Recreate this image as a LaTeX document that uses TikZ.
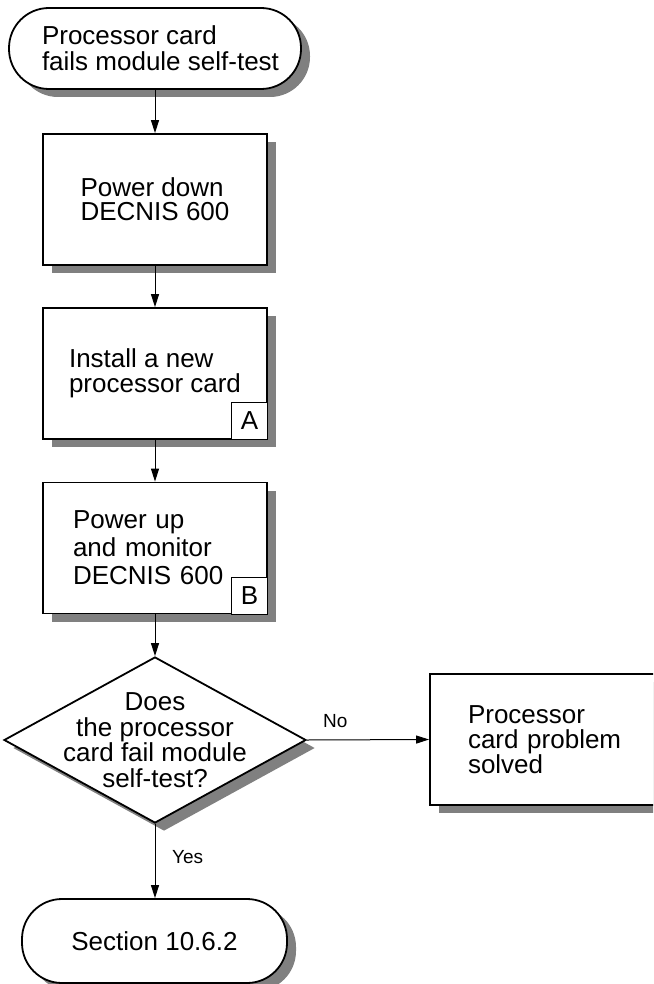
\documentclass[tikz,border=0pt]{standalone}
\usepackage{fontspec}
\setmainfont{Liberation Sans}
\usetikzlibrary{shapes.geometric,shadows,arrows.meta}
\begin{document}
\begin{tikzpicture}[x=1pt,y=-1pt,
  dshadow/.style={drop shadow={shadow xshift=9pt,shadow yshift=-8pt,fill=black!50,opacity=1,draw=none}},
  term/.style={rectangle, rounded corners=40pt, draw, line width=1.8pt, fill=white, inner sep=0pt, minimum height=81pt, align=left, dshadow},
  procbox/.style={rectangle, draw, line width=1.8pt, fill=white, inner sep=0pt, minimum width=224pt, minimum height=131pt, align=left, dshadow},
  decision/.style={diamond, draw, line width=1.8pt, fill=white, inner sep=0pt, minimum width=302pt, minimum height=166pt, dshadow},
  lettertag/.style={rectangle, draw, line width=0.9pt, fill=white, inner sep=0pt, minimum width=36pt, minimum height=37pt, anchor=south east},
  txt/.style={inner sep=0pt, align=center},
  lbl/.style={inner sep=0pt, font=\fontsize{19pt}{22pt}\selectfont},
  conn/.style={line width=1pt, -{Triangle[length=13pt,width=8pt]}},
  font=\fontsize{26pt}{25pt}\selectfont
]
\useasboundingbox (0,0) rectangle (653,984);
\clip (0,0) rectangle (653,984);
\fill[white] (0,0) rectangle (653,984);

\node[term, minimum width=292pt, font=\fontsize{26pt}{26pt}\selectfont] (start) at (155,48.5) {\hspace*{11pt}Processor card\\\hspace*{11pt}fails module self-test};
\node[procbox, font=\fontsize{26pt}{24pt}\selectfont] (b1) at (155,199.5) {Power down\\DECNIS 600};
\node[procbox, font=\fontsize{26pt}{25pt}\selectfont] (b2) at (155,373.5) {Install a new\\processor card};
\node[lettertag] (ta) at (b2.south east) {A};
\node[procbox, text width=164pt, inner xsep=30pt, font=\fontsize{26pt}{28pt}\selectfont] (b3) at (155,548) {Power up\\and monitor\\DECNIS 600};
\node[lettertag] (tb) at (b3.south east) {B};
\node[decision] (q) at (155,740) {};
\node[txt, font=\fontsize{26pt}{25.5pt}\selectfont] (qt) at (q.center) {Does\\the processor\\card fail module\\self-test?};
\node[procbox, minimum width=270pt, text width=194pt, inner xsep=38pt] (solved) at (565,739.5) {Processor\\card problem\\solved};
\node[term, minimum width=265pt, minimum height=84pt] (end) at (154.5,941) {Section 10.6.2};

\draw[conn] (start.south) -- (b1.north);
\draw[conn] (b1.south) -- (b2.north);
\draw[conn] (b2.south) -- (b3.north);
\draw[conn] (b3.south) -- (q.north);
\draw[conn] (q.east) -- (solved.west);
\draw[conn] (q.south) -- (q.south |- end.north);
\path (q.east) ++(16,-13) node[lbl, anchor=base west] (nolab) {No};
\path (q.south) ++(17,40) node[lbl, anchor=base west] (yeslab) {Yes};
\end{tikzpicture}
\end{document}
